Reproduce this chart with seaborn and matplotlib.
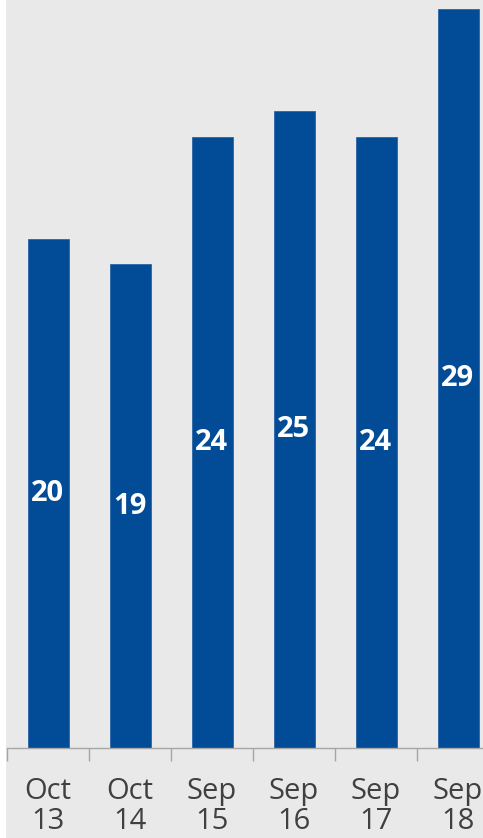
import numpy as np
import seaborn as sns
import matplotlib.pyplot as plt
from matplotlib.patches import Rectangle

# data
periods = ["Oct\n13", "Oct\n14", "Sep\n15", "Sep\n16", "Sep\n17", "Sep\n18"]
values = [20, 19, 24, 25, 24, 29]

bar_color = "#024b96"
bg = "#e9e9e9"

sns.set_style("white")
plt.rcParams['font.family'] = ['Open Sans', 'DejaVu Sans']

fig = plt.figure(figsize=(4.83, 8.38), dpi=100, facecolor=bg)
# white strip on the left edge
fig.patches.append(Rectangle((0, 0), 6 / 483, 1, transform=fig.transFigure,
                             facecolor="white", edgecolor="none", zorder=-1))

W, H = 483, 838
left = 7 / W
bottom = (H - 748) / H
ax = fig.add_axes([left, bottom, 1 - left, 1 - bottom])
ax.set_facecolor(bg)

sns.barplot(x=periods, y=values, color=bar_color, saturation=1, width=0.5,
            edgecolor="#2a66a8", linewidth=0.6, ax=ax)

for i, v in enumerate(values):
    ax.text(i, v / 2, str(v), ha="center", va="center", color="white",
            fontsize=21, fontweight="bold")

for s in ["top", "right", "left"]:
    ax.spines[s].set_visible(False)
ax.spines["bottom"].set_color("#a6a6a6")
ax.spines["bottom"].set_linewidth(1)
ax.set_yticks([])
ax.set_xticks(range(len(periods)))
ax.set_xticklabels(periods, fontsize=21, color="#404040", linespacing=1.05)
ax.tick_params(axis="x", which="major", length=0, pad=21, bottom=False)
ax.set_xticks(np.arange(-0.5, len(periods), 1), minor=True)
ax.tick_params(axis="x", which="minor", length=9, color="#a6a6a6", width=1,
               bottom=True)

ax.set_xlim(-0.5, -0.5 + (W - 7) / 82)
ax.set_ylim(0, 748 / 25.47)

fig.savefig("out.png", dpi=100, facecolor=bg)
